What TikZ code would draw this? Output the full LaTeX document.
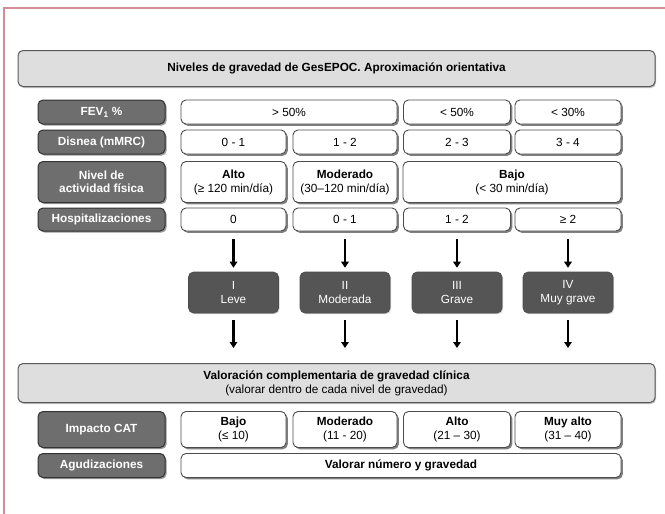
\documentclass[tikz,border=0pt]{standalone}
\usepackage{fontspec}
\setmainfont{Liberation Sans}
\usetikzlibrary{shadows,arrows.meta}
\definecolor{pinkb}{RGB}{214,140,150}
\definecolor{titlefill}{RGB}{222,222,222}
\definecolor{labfill}{RGB}{110,110,110}
\definecolor{levfill}{RGB}{85,85,85}
\tikzset{
 base/.style={rounded corners=5pt, inner sep=1pt, align=center, font=\fontsize{11.8}{14}\selectfont},
 titlebox/.style={base, draw=black!65, fill=titlefill, line width=1pt,
   drop shadow={shadow xshift=1pt, shadow yshift=-1.5pt, opacity=0.5}},
 labbox/.style={base, draw=black!80, fill=labfill, text=white, line width=1pt,
   font=\fontsize{11.8}{13.5}\selectfont\bfseries,
   drop shadow={shadow xshift=1.6pt, shadow yshift=-1.6pt, opacity=0.8}},
 valbox/.style={base, draw=black!70, fill=white, line width=0.9pt,
   drop shadow={shadow xshift=1.8pt, shadow yshift=-1.8pt, opacity=1}},
 levbox/.style={base, draw=black!70, fill=levfill, text=white, line width=0.6pt,
   minimum width=90pt, minimum height=41pt,
   drop shadow={shadow xshift=1pt, shadow yshift=-1.2pt, opacity=0.35}},
 arr/.style={-{Triangle[length=6pt,width=7.5pt]}, line width=2.3pt},
 pinkline/.style={draw=pinkb, line width=2pt}
}
\begin{document}
\begin{tikzpicture}[x=1pt,y=-1pt]
\useasboundingbox (0,0) rectangle (665,514);
\fill[white] (0,0) rectangle (665,514);
\draw[pinkline] (665,8) -- (4,8) -- (4,514);

% title
\node[titlebox, minimum width=637pt, minimum height=36pt, font=\fontsize{11.8}{14}\selectfont\bfseries] (title) at (336.5,68.5)
  {Niveles de gravedad de GesEPOC. Aproximación orientativa};

% labels
\node[labbox, minimum width=127pt, minimum height=24pt] (lfev) at (101.5,112) {FEV\textsubscript{1} \%};
\node[labbox, minimum width=127pt, minimum height=24pt] (ldis) at (101.5,142) {Disnea (mMRC)};
\node[labbox, minimum width=127pt, minimum height=41pt] (lact) at (101.5,182) {Nivel de\\actividad física};
\node[labbox, minimum width=127pt, minimum height=23pt] (lhos) at (101.5,219.5) {Hospitalizaciones};

% FEV1 row
\node[valbox, minimum width=216pt, minimum height=24pt] (f12) at (289,112) {> 50\%};
\node[valbox, minimum width=107pt, minimum height=24pt] (f3) at (457,112) {< 50\%};
\node[valbox, minimum width=106pt, minimum height=24pt] (f4) at (568,112) {< 30\%};

% Disnea row
\node[valbox, minimum width=105pt, minimum height=24pt] (d1) at (233.5,142) {0 - 1};
\node[valbox, minimum width=104pt, minimum height=24pt] (d2) at (345,142) {1 - 2};
\node[valbox, minimum width=107pt, minimum height=24pt] (d3) at (457,142) {2 - 3};
\node[valbox, minimum width=106pt, minimum height=24pt] (d4) at (568,142) {3 - 4};

% Activity row
\node[valbox, minimum width=105pt, minimum height=41pt] (a1) at (233.5,182) {\textbf{Alto}\\(≥ 120 min/día)};
\node[valbox, minimum width=104pt, minimum height=41pt] (a2) at (345,182) {\textbf{Moderado}\\(30–120 min/día)};
\node[valbox, minimum width=218pt, minimum height=41pt] (a34) at (512,182) {\textbf{Bajo}\\(< 30 min/día)};

% Hospitalization row
\node[valbox, minimum width=105pt, minimum height=23pt] (h1) at (233.5,219.5) {0};
\node[valbox, minimum width=104pt, minimum height=23pt] (h2) at (345,219.5) {0 - 1};
\node[valbox, minimum width=107pt, minimum height=23pt] (h3) at (457,219.5) {1 - 2};
\node[valbox, minimum width=106pt, minimum height=23pt] (h4) at (568,219.5) {≥ 2};

% levels
\node[levbox] (v1) at (233.5,292.5) {I\\Leve};
\node[levbox] (v2) at (345,292.5) {II\\Moderada};
\node[levbox] (v3) at (457,292.5) {III\\Grave};
\node[levbox] (v4) at (568,292.5) {IV\\Muy grave};

% valoracion
\node[titlebox, minimum width=637pt, minimum height=39pt] (val) at (336.5,383)
  {\textbf{Valoración complementaria de gravedad clínica}\\(valorar dentro de cada nivel de gravedad)};

% arrows
\foreach \i in {1,2,3,4}{
  \draw[arr, shorten <=8pt, shorten >=4pt] (h\i.south) -- (v\i.north);
  \draw[arr, shorten <=7pt, shorten >=15pt] (v\i.south) -- (v\i.south |- val.north);
}

% CAT
\node[labbox, minimum width=127pt, minimum height=36pt] (lcat) at (101.5,429.5) {Impacto CAT};
\node[labbox, minimum width=127pt, minimum height=24pt] (lagu) at (101.5,465.5) {Agudizaciones};
\node[valbox, minimum width=105pt, minimum height=36pt] (c1) at (233.5,429.5) {\textbf{Bajo}\\(≤ 10)};
\node[valbox, minimum width=104pt, minimum height=36pt] (c2) at (345,429.5) {\textbf{Moderado}\\(11 - 20)};
\node[valbox, minimum width=107pt, minimum height=36pt] (c3) at (457,429.5) {\textbf{Alto}\\(21 – 30)};
\node[valbox, minimum width=106pt, minimum height=36pt] (c4) at (568,429.5) {\textbf{Muy alto}\\(31 – 40)};
\node[valbox, minimum width=440pt, minimum height=24pt, font=\fontsize{11.8}{14}\selectfont\bfseries] (agu) at (401,465.5) {Valorar número y gravedad};
\end{tikzpicture}
\end{document}
